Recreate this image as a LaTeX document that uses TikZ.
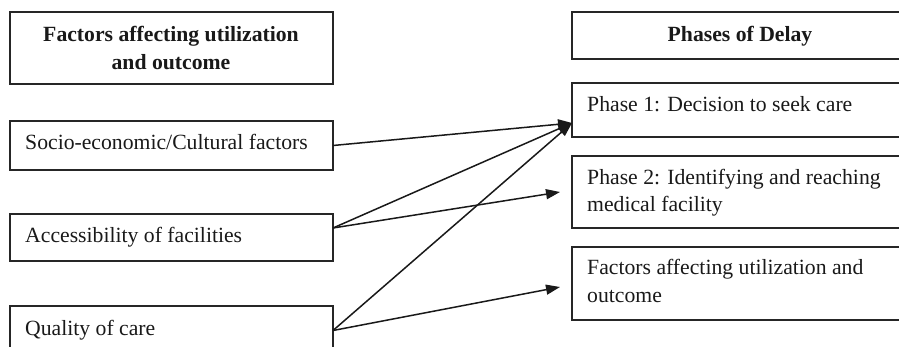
\documentclass[tikz,border=0pt]{standalone}
\usepackage{fontspec}
\setmainfont{Liberation Serif}
\usetikzlibrary{arrows.meta}
\tikzset{
  box/.style={draw=black!85, line width=1.5pt, inner sep=0pt, outer sep=0pt, anchor=north west},
  txt/.style={inner sep=0pt, anchor=base west, text=black!90, font=\fontsize{21.7}{27.5}\selectfont},
  htxt/.style={inner sep=0pt, anchor=base, text=black!90, font=\fontsize{21.7}{27.5}\selectfont\bfseries},
  conn/.style={line width=1.5pt, draw=black!90, -{Triangle[length=14pt,width=10pt]}},
}
\begin{document}
\begin{tikzpicture}[x=1pt,y=-1pt]
\useasboundingbox (0,0) rectangle (899,347);
\clip (0,0) rectangle (899,347);
% left column boxes
\node[box, minimum width=323pt, minimum height=72pt] (lh) at (10,12) {};
\node[box, minimum width=323pt, minimum height=49pt] (soc) at (10,121) {};
\node[box, minimum width=323pt, minimum height=47pt] (acc) at (10,214) {};
\node[box, minimum width=323pt, minimum height=49pt] (qua) at (10,306) {};
% right column boxes
\node[box, minimum width=336pt, minimum height=47pt] (rh) at (572,12) {};
\node[box, minimum width=336pt, minimum height=54pt] (p1) at (572,83) {};
\node[box, minimum width=336pt, minimum height=72pt] (p2) at (572,156) {};
\node[box, minimum width=336pt, minimum height=73pt] (fa) at (572,247) {};
% texts
\node[htxt] (lht1) at (171,42) {Factors affecting utilization};
\node[htxt] (lht2) at (171,70) {and outcome};
\node[htxt] (rht) at (740,42) {Phases of Delay};
\node[txt] (soct) at (25,150) {Socio-economic/Cultural factors};
\node[txt] (acct) at (25,243) {Accessibility of facilities};
\node[txt] (quat) at (25,335) {Quality of care};
\node[txt] (p1t) at (587,112) {Phase 1: Decision to seek care};
\node[txt] (p2t1) at (587,185) {Phase 2: Identifying and reaching};
\node[txt] (p2t2) at (587,212) {medical facility};
\node[txt] (fat1) at (587,275) {Factors affecting utilization and};
\node[txt] (fat2) at (587,302) {outcome};
% connector end points
\coordinate (p1in) at ([yshift=-13pt]p1.west);
\coordinate (p2in) at ([xshift=-12pt]p2.west);
\coordinate (fain) at ([xshift=-12pt,yshift=-3.5pt]fa.west);
\coordinate (accout) at ([yshift=9.5pt]acc.east);
\coordinate (quaout) at (qua.east);
% connectors
\draw[conn] (soc.east) -- (p1in);
\draw[conn] (accout) -- (p1in);
\draw[conn] (accout) -- (p2in);
\draw[conn] (quaout) -- (p1in);
\draw[conn] (quaout) -- (fain);
\end{tikzpicture}
\end{document}
